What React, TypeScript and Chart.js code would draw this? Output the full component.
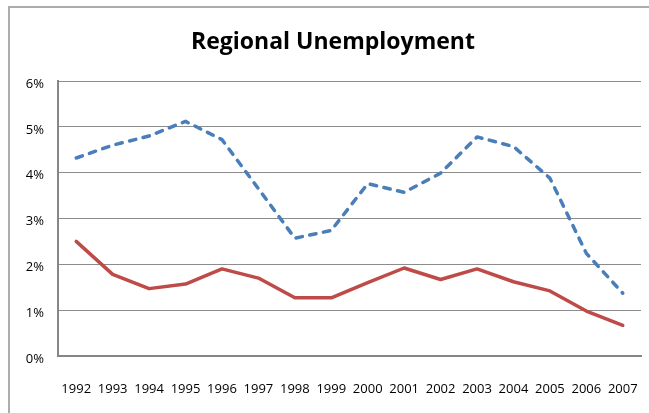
import React, { useEffect, useRef } from "react";
import { Chart, registerables } from "chart.js";

Chart.register(...registerables);

const titleText = "Regional Unemployment";
const years = ["1992", "1993", "1994", "1995", "1996", "1997", "1998", "1999", "2000", "2001", "2002", "2003", "2004", "2005", "2006", "2007"];
const blueSeries = [4.32, 4.6, 4.8, 5.12, 4.72, 3.65, 2.57, 2.74, 3.76, 3.57, 3.99, 4.78, 4.57, 3.88, 2.24, 1.37];
const redSeries = [2.5, 1.78, 1.47, 1.57, 1.9, 1.7, 1.27, 1.27, 1.6, 1.92, 1.67, 1.9, 1.62, 1.42, 0.98, 0.67];
const yTicks = [0, 1, 2, 3, 4, 5, 6];

const titlePlugin = {
  id: "customTitle",
  afterDraw(chart: any) {
    const ctx = chart.ctx;
    ctx.save();
    ctx.font = 'bold 23px "Open Sans"';
    ctx.fillStyle = "#000000";
    ctx.textAlign = "center";
    ctx.textBaseline = "alphabetic";
    ctx.fillText(titleText, 333, 49);
    ctx.restore();
  },
};

export default function App() {
  const ref = useRef<HTMLCanvasElement | null>(null);

  useEffect(() => {
    if (!ref.current) return;
    const chart = new Chart(ref.current, {
      type: "line",
      data: {
        labels: years,
        datasets: [
          {
            label: "Series 1",
            data: blueSeries,
            borderColor: "#4a7ebb",
            borderWidth: 3.5,
            borderDash: [6.5, 7.5],
            borderCapStyle: "round",
            borderJoinStyle: "round",
            pointRadius: 0,
            tension: 0,
            fill: false,
          },
          {
            label: "Series 2",
            data: redSeries,
            borderColor: "#be4b48",
            borderWidth: 3.5,
            borderCapStyle: "round",
            borderJoinStyle: "round",
            pointRadius: 0,
            tension: 0,
            fill: false,
          },
        ],
      },
      options: {
        animation: false,
        responsive: true,
        maintainAspectRatio: false,
        layout: { padding: { top: 81, right: 8, left: 0, bottom: 0 } },
        plugins: {
          legend: { display: false },
          title: { display: false },
          tooltip: { enabled: false },
        },
        scales: {
          x: {
            offset: true,
            grid: { display: false, drawTicks: true, tickLength: 23 },
            border: { display: true, color: "#868686", width: 2 },
            ticks: {
              color: "#000000",
              font: { family: '"Open Sans"', size: 13 },
              padding: 2,
              maxRotation: 0,
              autoSkip: false,
            },
            afterFit: (s: any) => {
              s.height = 57;
            },
          },
          y: {
            min: 0,
            max: 6,
            afterBuildTicks: (s: any) => {
              s.ticks = yTicks.map((v) => ({ value: v }));
            },
            grid: { color: "#8c8c8c", lineWidth: 1, drawTicks: false },
            border: { display: true, color: "#868686", width: 2 },
            ticks: {
              color: "#000000",
              font: { family: '"Open Sans"', size: 13 },
              padding: 14,
              labelOffset: 3,
              callback: (v: any) => v + "%",
            },
            afterFit: (s: any) => {
              s.width = 58;
            },
          },
        },
      },
      plugins: [titlePlugin],
    });
    return () => chart.destroy();
  }, []);

  return (
    <div style={{ position: "fixed", left: 0, top: 0, width: 649, height: 413, background: "#ffffff" }}>
      <div
        style={{
          position: "absolute",
          left: 8,
          top: 6,
          width: 700,
          height: 500,
          borderLeft: "2px solid #acacac",
          borderTop: "2px solid #acacac",
          boxSizing: "border-box",
        }}
      />
      <canvas ref={ref} style={{ position: "absolute", left: 0, top: 0, width: 649, height: 413 }} />
    </div>
  );
}
